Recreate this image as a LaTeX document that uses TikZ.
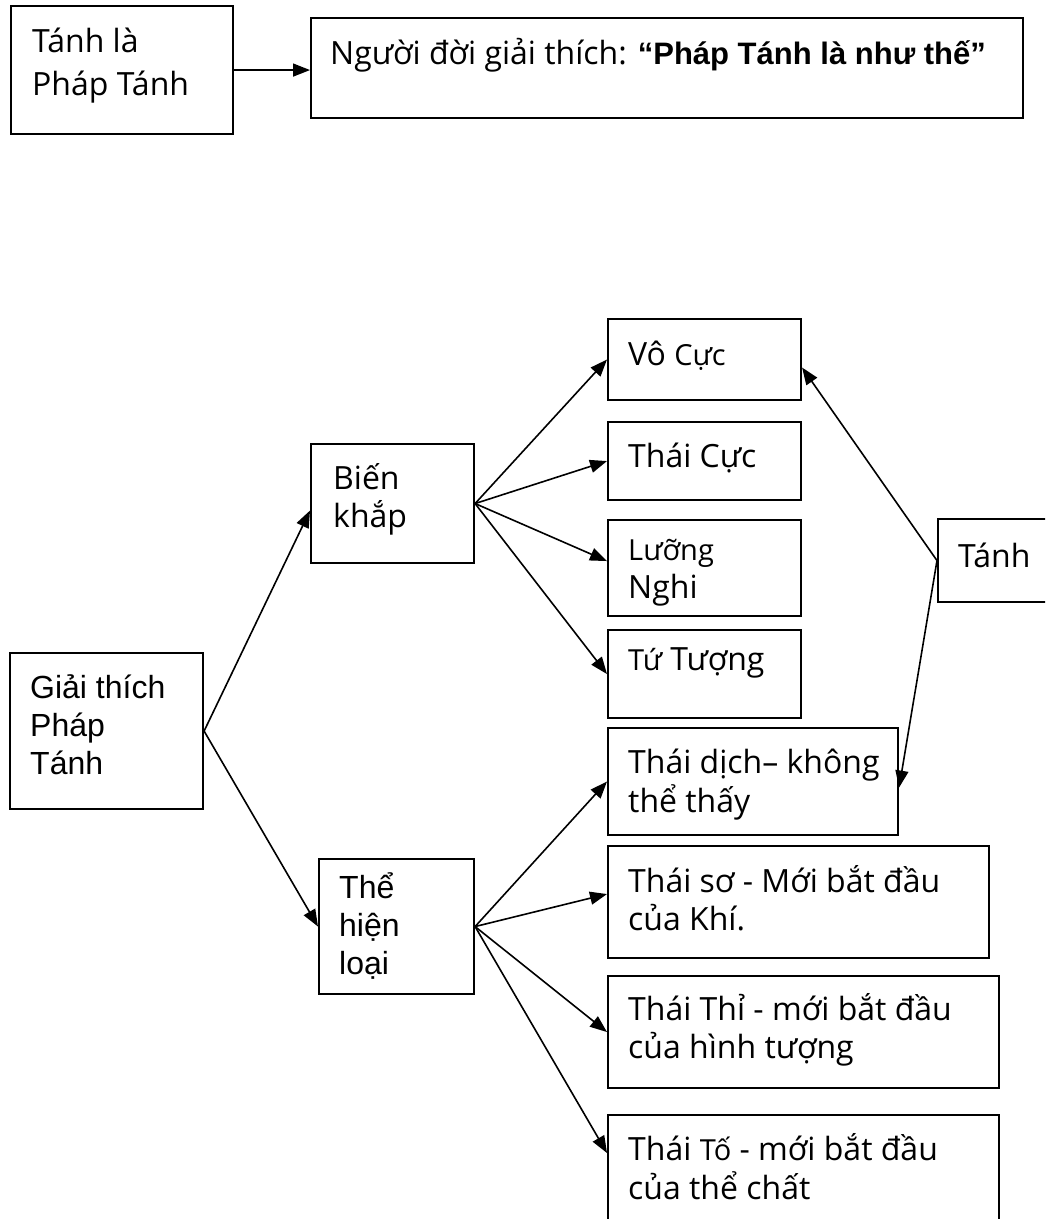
\documentclass[tikz,border=0pt]{standalone}
\usepackage{fontspec}
\setmainfont{Open Sans}
\newfontfamily\arialf{Liberation Sans}
\usetikzlibrary{arrows.meta}

% body text in the boxes
\newcommand\segf{\fontsize{32}{38}\selectfont}
\newcommand\arf{\arialf\fontsize{32}{38}\selectfont}
\newcommand\smaller{\fontsize{29}{38}\selectfont}
% left-aligned lines whose baseline is that of the first line
\newcommand\mlines[1]{\begin{tabular}[t]{@{}l@{}}#1\end{tabular}}

\tikzset{
  box/.style={draw, line width=2.1pt, inner sep=0pt, anchor=north west},
  lbl/.style={anchor=base west, inner sep=0pt, font=\segf},
  albl/.style={lbl, font=\arf},
  conn/.style={line width=1.6pt, -{Triangle[length=17pt,width=13pt]}},
}

\begin{document}
\begin{tikzpicture}[x=1pt,y=-1pt]
\useasboundingbox (0,0) rectangle (1045,1219);
\clip (0,0) rectangle (1045,1219);
\fill[white] (0,0) rectangle (1045,1219);

% top row
\node[box, minimum width=222pt, minimum height=128pt] (tl) at (10,5) {};
\node[lbl, font=\fontsize{32}{43}\selectfont] (tl-t) at (32,52) {\mlines{Tánh là\\Pháp Tánh}};
\node[box, minimum width=712pt, minimum height=100pt] (tr) at (310,17) {};
\node[lbl] (tr-t) at (330,64) {Người đời giải thích: {\arialf\bfseries\fontsize{31}{38}\selectfont “Pháp Tánh là như thế”}};
\draw[conn] (tl.east) -- (tl.east -| tr.west);

% left column
\node[box, minimum width=193pt, minimum height=156pt] (gt) at (9,652) {};
\node[albl] (gt-t) at (30,698) {\mlines{Giải thích\\Pháp\\Tánh}};

\node[box, minimum width=163pt, minimum height=119pt] (bk) at (310,443) {};
\node[lbl] (bk-t) at (333,489) {\mlines{Biến\\khắp}};

\node[box, minimum width=155pt, minimum height=135pt] (th) at (318,858) {};
\node[albl] (th-t) at (339,898) {\mlines{Thể\\hiện\\loại}};

% right column, upper group
\node[box, minimum width=193pt, minimum height=81pt] (vc) at (607,318) {};
\node[lbl] (vc-t) at (628,365) {Vô {\smaller Cực}};
\node[box, minimum width=193pt, minimum height=78pt] (tc) at (607,421) {};
\node[lbl] (tc-t) at (628,467) {Thái Cực};
\node[box, minimum width=193pt, minimum height=96pt] (ln) at (607,519) {};
\node[lbl] (ln-t) at (628,560) {\mlines{{\smaller Lưỡng}\\Nghi}};
\node[box, minimum width=193pt, minimum height=88pt] (tt) at (607,629) {};
\node[lbl] (tt-t) at (628,670) {{\smaller Tứ} Tượng};

% right column, lower group
\node[box, minimum width=290pt, minimum height=107pt] (td) at (607,727) {};
\node[lbl] (td-t) at (628,773) {\mlines{Thái dịch– không\\thể thấy}};
\node[box, minimum width=381pt, minimum height=112pt] (ts) at (607,845) {};
\node[lbl] (ts-t) at (628,892) {\mlines{Thái sơ - Mới bắt đầu\\của Khí.}};
\node[box, minimum width=391pt, minimum height=112pt] (tth) at (607,975) {};
\node[lbl] (tth-t) at (628,1020) {\mlines{Thái Thỉ - mới bắt đầu\\của hình tượng}};
\node[box, minimum width=391pt, minimum height=120pt] (tto) at (607,1114) {};
\node[lbl] (tto-t) at (628,1160) {\mlines{Thái {\smaller Tố} - mới bắt đầu\\của thể chất}};

% far right
\node[box, minimum width=130pt, minimum height=83pt] (tn) at (937,518) {};
\node[lbl] (tn-t) at (958,567) {Tánh};

% connectors
\draw[conn] (gt.east) -- ([yshift=-7pt]bk.west);
\draw[conn] (gt.east) -- (th.west);

\draw[conn] (bk.east) -- (vc.west);
\draw[conn] (bk.east) -- (tc.west);
\draw[conn] (bk.east) -- ([yshift=7pt]ln.west);
\draw[conn] (bk.east) -- (tt.west);

\draw[conn] (th.east) -- (td.west);
\draw[conn] (th.east) -- ([yshift=8pt]ts.west);
\draw[conn] (th.east) -- (tth.west);
\draw[conn] (th.east) -- ([yshift=-39pt]tto.north west);

\draw[conn] (tn.west) -- ([yshift=-8pt]vc.east);
\draw[conn] (tn.west) -- ([yshift=-6pt]td.east);
\end{tikzpicture}
\end{document}
